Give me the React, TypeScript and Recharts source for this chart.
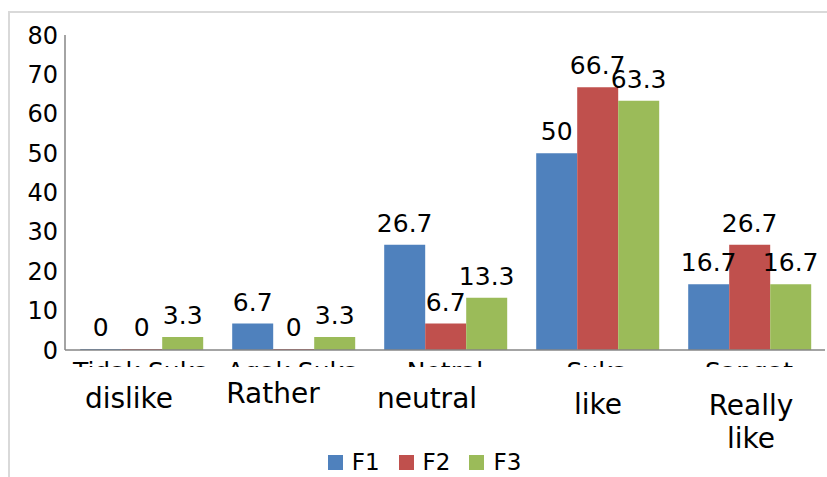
import React from "react";
import {
  BarChart,
  Bar,
  XAxis,
  YAxis,
  Legend,
  LabelList,
} from "recharts";

const categories = ["Tidak Suka", "Agak Suka", "Netral", "Suka", "Sangat Suka"];
const englishLabels = ["dislike", "Rather", "neutral", "like", "Really like"];
const seriesNames = ["F1", "F2", "F3"];
const f1Values = [0, 6.7, 26.7, 50, 16.7];
const f2Values = [0, 0, 6.7, 66.7, 26.7];
const f3Values = [3.3, 3.3, 13.3, 63.3, 16.7];
const yTicks = [0, 10, 20, 30, 40, 50, 60, 70, 80];

const COLORS = ["#4F81BD", "#C0504D", "#9BBB59"];
const FONT = "'DejaVu Sans', Verdana, sans-serif";

// where the overlaid english text sits, relative to the tick (dx, baseline of first line)
const englishPlacement = [
  { dx: -12, dy: 58 },
  { dx: -20, dy: 53 },
  { dx: -18, dy: 58 },
  { dx: 1, dy: 64 },
  { dx: 2, dy: 65 },
];

const data = categories.map((c, i) => ({
  name: c,
  F1: f1Values[i],
  F2: f2Values[i],
  F3: f3Values[i],
}));

let ctx: CanvasRenderingContext2D | null = null;
function wrap(text: string, fontSize: number, maxWidth: number): string[] {
  if (!ctx) ctx = document.createElement("canvas").getContext("2d");
  if (!ctx) return [text];
  ctx.font = `${fontSize}px 'DejaVu Sans'`;
  const words = text.split(" ");
  const lines: string[] = [];
  let cur = "";
  for (const w of words) {
    const next = cur ? cur + " " + w : w;
    if (cur && ctx.measureText(next).width > maxWidth) {
      lines.push(cur);
      cur = w;
    } else {
      cur = next;
    }
  }
  if (cur) lines.push(cur);
  return lines;
}

function CategoryTick(props: any) {
  const { x, y, payload, index } = props;
  const place = englishPlacement[index] || { dx: 0, dy: 60 };
  const clipId = `cat-cut-${index}`;
  const indoLines = wrap(String(payload.value), 25, 151);
  const engLines = wrap(englishLabels[index] || "", 28, 115);
  return (
    <g>
      <defs>
        <clipPath id={clipId}>
          <rect x={x - 120} y={y} width={240} height={17} />
        </clipPath>
      </defs>
      <text
        x={x}
        y={y + 30}
        textAnchor="middle"
        fontSize={25}
        fontFamily={FONT}
        fill="#000"
        clipPath={`url(#${clipId})`}
      >
        {indoLines.map((l, i) => (
          <tspan key={i} x={x} dy={i === 0 ? 0 : 30}>
            {l}
          </tspan>
        ))}
      </text>
      <text
        x={x + place.dx}
        y={y + place.dy}
        textAnchor="middle"
        fontSize={28}
        fontFamily={FONT}
        fill="#000"
      >
        {engLines.map((l, i) => (
          <tspan key={i} x={x + place.dx} dy={i === 0 ? 0 : 33}>
            {l}
          </tspan>
        ))}
      </text>
    </g>
  );
}

function LegendContent() {
  return (
    <div
      style={{
        display: "flex",
        justifyContent: "center",
        alignItems: "center",
        height: 30,
        paddingLeft: 16,
        fontFamily: FONT,
        fontSize: 23,
        color: "#000",
      }}
    >
      {seriesNames.map((s, i) => (
        <div key={s} style={{ display: "flex", alignItems: "center", marginRight: i < seriesNames.length - 1 ? 19 : 0 }}>
          <span style={{ width: 15, height: 15, background: COLORS[i], display: "inline-block", marginRight: 9 }} />
          <span>{s}</span>
        </div>
      ))}
    </div>
  );
}

export default function App() {
  return (
    <div style={{ position: "absolute", left: 0, top: 0, width: 827, height: 477, background: "#fff" }}>
      <div
        style={{
          position: "absolute",
          left: 8,
          top: 11,
          right: 0,
          bottom: 0,
          borderTop: "2px solid #d9d9d9",
          borderLeft: "2px solid #d9d9d9",
        }}
      />
      <BarChart
        width={827}
        height={477}
        data={data}
        margin={{ top: 35, right: 2, left: 8, bottom: 0 }}
        barCategoryGap="10%"
        barGap={0}
        style={{ position: "absolute", left: 0, top: 0 }}
      >
        <XAxis
          dataKey="name"
          height={97}
          interval={0}
          tickLine={false}
          tickSize={0}
          tickMargin={0}
          axisLine={{ stroke: "#868686", strokeWidth: 1.5 }}
          tick={<CategoryTick />}
        />
        <YAxis
          domain={[0, 80]}
          ticks={yTicks}
          width={57}
          tickLine={false}
          tickSize={0}
          tickMargin={7}
          axisLine={{ stroke: "#868686", strokeWidth: 1.5 }}
          tick={{ fill: "#000", fontSize: 24, fontFamily: FONT }}
        />
        <Legend verticalAlign="bottom" content={<LegendContent />} />
        {seriesNames.map((s, i) => (
          <Bar key={s} dataKey={s} fill={COLORS[i]} minPointSize={1} isAnimationActive={false}>
            <LabelList
              dataKey={s}
              position="top"
              offset={13}
              fill="#000"
              fontSize={25}
              fontFamily={FONT}
            />
          </Bar>
        ))}
      </BarChart>
    </div>
  );
}
